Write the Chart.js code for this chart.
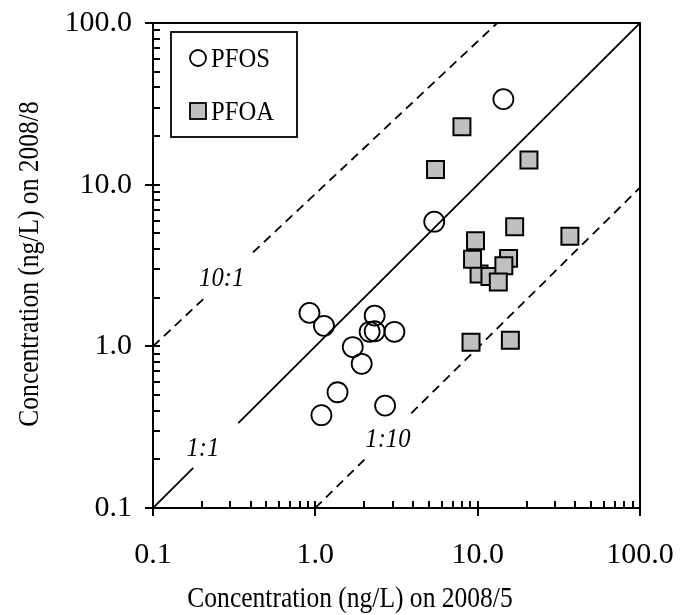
<!DOCTYPE html>
<html>
<head>
<meta charset="utf-8">
<script src="https://cdn.jsdelivr.net/npm/chart.js@4.4.0/dist/chart.umd.min.js"></script>
<style>
  html, body { margin: 0; padding: 0; background: #fff; }
</style>
</head>
<body>
<canvas id="chart" width="681" height="615"></canvas>
<script>
// values (ng/L)
const pfosX = [14.4, 5.4, 0.92, 1.13, 2.32, 2.16, 2.32, 3.07, 1.70, 1.93, 1.37, 1.09, 2.69];
const pfosY = [33.8, 5.9, 1.61, 1.34, 1.55, 1.23, 1.24, 1.23, 0.99, 0.78, 0.52, 0.375, 0.43];
const pfoaX = [8.0, 5.5, 20.7, 16.9, 37.0, 10.2, 11.9, 9.3, 9.7, 15.5, 14.5, 13.4, 9.1, 15.9];
const pfoaY = [22.8, 12.4, 14.2, 5.5, 4.8, 2.8, 2.7, 3.46, 4.5, 3.5, 3.15, 2.5, 1.06, 1.09];

const majorTicks = [0.1, 1, 10, 100];
const tickLabels = ['0.1', '1.0', '10.0', '100.0'];
const minorTicks = [0.2, 0.3, 0.4, 0.5, 0.6, 0.7, 0.8, 0.9, 2, 3, 4, 5, 6, 7, 8, 9, 20, 30, 40, 50, 60, 70, 80, 90];

const xTitle = 'Concentration (ng/L) on 2008/5';
const yTitle = 'Concentration (ng/L) on 2008/8';

// reference lines: end points, and the x range left open for the label
const refNames = ['1:1', '10:1', '1:10'];
const refStart = [[0.1, 0.1], [0.1, 1], [1, 0.1]];
const refEnd = [[100, 100], [13.2, 100], [100, 9.6]];
const refGap = [[0.177, 0.335], [0.209, 0.413], [2.06, 3.9]];
const refLabelAt = [[0.203, 0.234], [0.265, 2.63], [2.8, 0.263]];

const FONT = '"Liberation Serif", "Times New Roman", serif';
const SQUEEZE = 0.88; // the figure's serif text is set a little narrow

function onLine(i, x) {
  const [x0, y0] = refStart[i], [x1, y1] = refEnd[i];
  const t = (Math.log10(x) - Math.log10(x0)) / (Math.log10(x1) - Math.log10(x0));
  return Math.pow(10, Math.log10(y0) + t * (Math.log10(y1) - Math.log10(y0)));
}

const refSets = refNames.map((name, i) => ({
  type: 'line',
  label: name,
  data: [
    { x: refStart[i][0], y: refStart[i][1] },
    { x: refGap[i][0], y: onLine(i, refGap[i][0]) },
    { x: (refGap[i][0] + refGap[i][1]) / 2, y: null },
    { x: refGap[i][1], y: onLine(i, refGap[i][1]) },
    { x: refEnd[i][0], y: refEnd[i][1] }
  ],
  borderColor: '#000',
  borderWidth: 1.8,
  borderDash: i === 0 ? [] : [9, 6],
  pointRadius: 0,
  spanGaps: false,
  tension: 0
}));

// no extra room for the end labels: keep the plot box where it is in the figure
const noPad = s => { s.paddingLeft = 0; s.paddingRight = 0; s.paddingTop = 0; s.paddingBottom = 0; };

function narrowText(ctx, text, x, y, rot) {
  ctx.save();
  ctx.translate(x, y);
  if (rot) ctx.rotate(rot);
  ctx.scale(SQUEEZE, 1);
  ctx.fillText(text, 0, 0);
  ctx.restore();
}

const framePlugin = {
  id: 'frame',
  afterDraw(chart) {
    const { ctx, chartArea: a, scales: { x, y } } = chart;
    ctx.save();
    ctx.strokeStyle = '#000';
    ctx.lineWidth = 2;
    ctx.strokeRect(a.left, a.top, a.right - a.left, a.bottom - a.top);

    const seg = (x0, y0, x1, y1) => { ctx.beginPath(); ctx.moveTo(x0, y0); ctx.lineTo(x1, y1); ctx.stroke(); };
    majorTicks.forEach(v => {
      const px = Math.round(x.getPixelForValue(v));
      seg(px, a.bottom - 7, px, a.bottom + 8);
      const py = Math.round(y.getPixelForValue(v));
      seg(a.left - 8, py, a.left + 7, py);
    });
    minorTicks.forEach(v => {
      const px = Math.round(x.getPixelForValue(v));
      seg(px, a.bottom - 7, px, a.bottom);
      const py = Math.round(y.getPixelForValue(v));
      seg(a.left, py, a.left + 7, py);
    });

    ctx.fillStyle = '#000';

    // axis titles
    ctx.font = '29px ' + FONT;
    ctx.textAlign = 'center';
    ctx.textBaseline = 'alphabetic';
    narrowText(ctx, xTitle, 350, 607);
    narrowText(ctx, yTitle, 38, 264, -Math.PI / 2);

    // ratio labels
    ctx.font = 'italic 28px ' + FONT;
    ctx.textBaseline = 'middle';
    refNames.forEach((t, i) => {
      narrowText(ctx, t, x.getPixelForValue(refLabelAt[i][0]), y.getPixelForValue(refLabelAt[i][1]));
    });

    // legend box
    const lx = a.left + 18, ly = a.top + 9;
    ctx.lineWidth = 1.8;
    ctx.strokeRect(lx, ly, 126, 105);
    ctx.font = '28px ' + FONT;
    ctx.textAlign = 'left';
    ctx.textBaseline = 'alphabetic';
    ctx.beginPath();
    ctx.arc(lx + 27, ly + 26, 8, 0, Math.PI * 2);
    ctx.stroke();
    narrowText(ctx, 'PFOS', lx + 40, ly + 35);
    ctx.fillStyle = '#c0c0c0';
    ctx.fillRect(lx + 19, ly + 71, 16, 16);
    ctx.strokeRect(lx + 19, ly + 71, 16, 16);
    ctx.fillStyle = '#000';
    narrowText(ctx, 'PFOA', lx + 40, ly + 88);
    ctx.restore();
  }
};

new Chart(document.getElementById('chart'), {
  type: 'scatter',
  data: {
    datasets: [
      {
        label: 'PFOS',
        data: pfosX.map((v, i) => ({ x: v, y: pfosY[i] })),
        pointStyle: 'circle',
        pointRadius: 10,
        backgroundColor: 'rgba(0,0,0,0)',
        borderColor: '#000',
        borderWidth: 1.8
      },
      {
        label: 'PFOA',
        data: pfoaX.map((v, i) => ({ x: v, y: pfoaY[i] })),
        pointStyle: 'rect',
        pointRadius: 12,
        backgroundColor: '#c0c0c0',
        borderColor: '#000',
        borderWidth: 2
      },
      ...refSets
    ]
  },
  options: {
    responsive: false,
    animation: false,
    layout: { padding: { left: 0, right: 41, top: 23, bottom: 0 } },
    plugins: { legend: { display: false }, tooltip: { enabled: false } },
    scales: {
      x: {
        type: 'logarithmic',
        min: 0.1, max: 100,
        afterBuildTicks: s => { s.ticks = majorTicks.map(v => ({ value: v })); },
        afterFit: s => { s.height = 107; noPad(s); },
        ticks: {
          callback: (v, i) => tickLabels[i],
          font: { family: FONT, size: 30 },
          color: '#000',
          padding: 29,
          maxRotation: 0,
          autoSkip: false
        },
        grid: { display: false, drawTicks: false },
        border: { display: false }
      },
      y: {
        type: 'logarithmic',
        min: 0.1, max: 100,
        afterBuildTicks: s => { s.ticks = majorTicks.map(v => ({ value: v })); },
        afterFit: s => { s.width = 153; noPad(s); },
        ticks: {
          callback: (v, i) => tickLabels[i],
          font: { family: FONT, size: 30 },
          color: '#000',
          padding: 21,
          autoSkip: false
        },
        grid: { display: false, drawTicks: false },
        border: { display: false }
      }
    }
  },
  plugins: [framePlugin]
});
</script>
</body>
</html>
